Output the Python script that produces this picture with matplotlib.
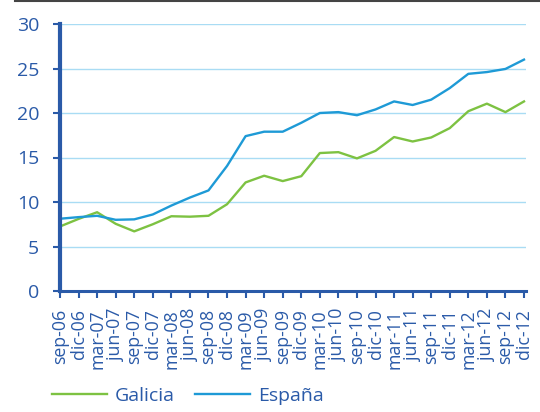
import matplotlib
matplotlib.use("Agg")
import matplotlib.pyplot as plt
from matplotlib.lines import Line2D

plt.rcParams['font.family'] = ['Open Sans', 'DejaVu Sans']

labels = ["sep-06", "dic-06", "mar-07", "jun-07", "sep-07", "dic-07", "mar-08", "jun-08",
          "sep-08", "dic-08", "mar-09", "jun-09", "sep-09", "dic-09", "mar-10", "jun-10",
          "sep-10", "dic-10", "mar-11", "jun-11", "sep-11", "dic-11", "mar-12", "jun-12",
          "sep-12", "dic-12"]
galicia = [7.25, 8.1, 8.85, 7.55, 6.7, 7.5, 8.4, 8.35, 8.45, 9.75, 12.2, 12.95, 12.35, 12.9,
           15.5, 15.6, 14.9, 15.75, 17.3, 16.8, 17.25, 18.3, 20.2, 21.05, 20.1, 21.3]
espana = [8.12, 8.3, 8.45, 8.0, 8.05, 8.6, 9.6, 10.5, 11.3, 14.05, 17.4, 17.9, 17.9, 18.9,
          20.0, 20.1, 19.75, 20.4, 21.3, 20.9, 21.5, 22.8, 24.4, 24.6, 24.95, 26.0]
yticks = [0, 5, 10, 15, 20, 25, 30]

axis_col = "#2a5aa8"
green = "#7dc242"
blue = "#1e9ad6"
grid_col = "#a9dcf4"

fig = plt.figure(figsize=(5.4, 4.12), dpi=100)
ax = fig.add_axes([60/540, 1-291/412, (526-60)/540, (291-24)/412])

x = list(range(len(labels)))
ax.plot(x, galicia, color=green, lw=1.7, label="Galicia")
ax.plot(x, espana, color=blue, lw=1.7, label="España")

ax.set_ylim(0, 30)
ax.set_xlim(0, (len(labels) - 1) * 466/464)
ax.set_yticks(yticks)
ax.set_xticks(x)
ax.set_xticklabels(labels, rotation=90, fontsize=12.8, color=axis_col)
ax.tick_params(axis='y', labelsize=14, labelcolor=axis_col, color=axis_col,
               length=5, width=1.5, pad=10)
ax.tick_params(axis='x', color=axis_col, length=5, width=1.5, pad=8)

for y in yticks[1:]:
    ax.axhline(y, color=grid_col, lw=1.0, zorder=0)

for s in ["top", "right"]:
    ax.spines[s].set_visible(False)
ax.spines["left"].set_color(axis_col)
ax.spines["left"].set_linewidth(3)
ax.spines["bottom"].set_color(axis_col)
ax.spines["bottom"].set_linewidth(2.2)

# top border line
fig.add_artist(Line2D([15/540, 1], [1-1/412, 1-1/412], color="#444444", lw=1.5))

leg = fig.legend(loc="center left", bbox_to_anchor=(52/540, 1-396/412), ncol=2,
                 frameon=False, fontsize=14, handlelength=2.85, handletextpad=0.4,
                 columnspacing=1.0, borderaxespad=0, borderpad=0)
for t in leg.get_texts():
    t.set_color(axis_col)

fig.savefig("out.png", dpi=100)
